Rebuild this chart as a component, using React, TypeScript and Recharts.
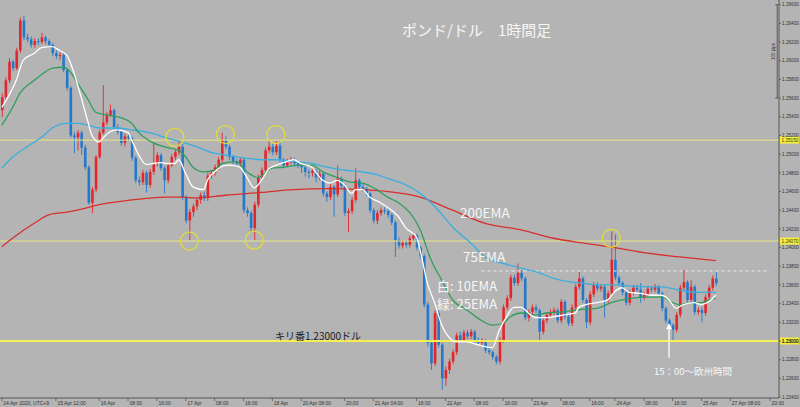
import React from 'react';
import { ComposedChart, Bar, Line, XAxis, YAxis, ReferenceLine, ReferenceDot } from 'recharts';

// ---- hourly candles (GBP/USD) ----
const opens = [
  1.2547,1.2561,1.2579,1.2599,1.2592,1.2611,1.2643,1.2625,1.2623,1.2617,
  1.2621,1.2620,1.2625,1.2621,1.2617,1.2608,1.2605,1.2606,1.2590,1.2571,
  1.2520,1.2518,1.2523,1.2507,1.2486,1.2448,1.2462,1.2497,1.2523,1.2534,
  1.2542,1.2547,1.2529,1.2524,1.2512,1.2519,1.2517,1.2496,1.2472,1.2470,
  1.2480,1.2467,1.2481,1.2490,1.2499,1.2485,1.2472,1.2488,1.2497,1.2502,
  1.2508,1.2454,1.2429,1.2438,1.2444,1.2451,1.2456,1.2453,1.2477,1.2480,
  1.2486,1.2494,1.2515,1.2508,1.2497,1.2492,1.2490,1.2494,1.2440,1.2437,
  1.2421,1.2446,1.2475,1.2483,1.2504,1.2508,1.2502,1.2509,1.2494,1.2488,
  1.2492,1.2494,1.2490,1.2488,1.2486,1.2481,1.2480,1.2482,1.2475,1.2479,
  1.2458,1.2454,1.2465,1.2457,1.2474,1.2466,1.2437,1.2439,1.2451,1.2472,
  1.2465,1.2463,1.2458,1.2440,1.2429,1.2437,1.2440,1.2439,1.2435,1.2427,
  1.2408,1.2402,1.2405,1.2403,1.2410,1.2413,1.2400,1.2391,1.2339,1.2298,
  1.2276,1.2330,1.2296,1.2260,1.2269,1.2278,1.2288,1.2306,1.2301,1.2309,
  1.2305,1.2310,1.2301,1.2298,1.2300,1.2290,1.2288,1.2283,1.2278,1.2301,
  1.2336,1.2346,1.2368,1.2362,1.2373,1.2367,1.2325,1.2331,1.2336,1.2333,
  1.2310,1.2322,1.2328,1.2331,1.2333,1.2322,1.2342,1.2326,1.2319,1.2336,
  1.2358,1.2367,1.2344,1.2320,1.2350,1.2360,1.2356,1.2358,1.2344,1.2351,
  1.2387,1.2368,1.2362,1.2352,1.2341,1.2352,1.2357,1.2355,1.2347,1.2350,
  1.2356,1.2355,1.2358,1.2351,1.2335,1.2322,1.2317,1.2312,1.2328,1.2357,
  1.2363,1.2344,1.2358,1.2331,1.2333,1.2330,1.2347,1.2357,1.2367,
];
const highs = [
  1.2565,1.2582,1.2603,1.2601,1.2614,1.2646,1.2648,1.2629,1.2626,1.2624,
  1.2624,1.2630,1.2627,1.2623,1.2619,1.2611,1.2609,1.2608,1.2592,1.2573,
  1.2524,1.2526,1.2525,1.2510,1.2488,1.2465,1.2499,1.2526,1.2574,1.2545,
  1.2553,1.2549,1.2532,1.2526,1.2522,1.2522,1.2519,1.2498,1.2476,1.2483,
  1.2482,1.2484,1.2512,1.2502,1.2501,1.2487,1.2491,1.2500,1.2505,1.2514,
  1.2511,1.2456,1.2441,1.2447,1.2454,1.2459,1.2460,1.2480,1.2483,1.2489,
  1.2497,1.2523,1.2519,1.2510,1.2499,1.2495,1.2497,1.2496,1.2443,1.2439,
  1.2449,1.2478,1.2486,1.2507,1.2515,1.2511,1.2514,1.2514,1.2496,1.2495,
  1.2497,1.2496,1.2493,1.2490,1.2488,1.2484,1.2485,1.2484,1.2482,1.2481,
  1.2460,1.2468,1.2467,1.2488,1.2476,1.2468,1.2442,1.2454,1.2485,1.2474,
  1.2468,1.2465,1.2460,1.2442,1.2440,1.2443,1.2443,1.2441,1.2437,1.2429,
  1.2411,1.2408,1.2408,1.2413,1.2416,1.2415,1.2402,1.2393,1.2342,1.2300,
  1.2333,1.2333,1.2298,1.2273,1.2281,1.2291,1.2309,1.2310,1.2312,1.2312,
  1.2313,1.2312,1.2304,1.2303,1.2302,1.2293,1.2290,1.2285,1.2304,1.2339,
  1.2349,1.2371,1.2371,1.2383,1.2376,1.2369,1.2334,1.2339,1.2339,1.2335,
  1.2325,1.2331,1.2334,1.2336,1.2335,1.2345,1.2344,1.2328,1.2339,1.2361,
  1.2374,1.2369,1.2346,1.2353,1.2363,1.2363,1.2361,1.2360,1.2354,1.2417,
  1.2414,1.2370,1.2364,1.2354,1.2355,1.2360,1.2360,1.2362,1.2353,1.2359,
  1.2359,1.2361,1.2360,1.2353,1.2337,1.2324,1.2319,1.2331,1.2360,1.2376,
  1.2365,1.2365,1.2360,1.2336,1.2336,1.2350,1.2360,1.2370,1.2374,
];
const lows = [
  1.2540,1.2558,1.2576,1.2589,1.2590,1.2608,1.2622,1.2620,1.2614,1.2614,
  1.2617,1.2618,1.2618,1.2614,1.2605,1.2602,1.2601,1.2588,1.2568,1.2518,
  1.2501,1.2504,1.2499,1.2483,1.2446,1.2437,1.2459,1.2495,1.2521,1.2531,
  1.2540,1.2526,1.2521,1.2509,1.2508,1.2514,1.2493,1.2469,1.2466,1.2467,
  1.2459,1.2464,1.2478,1.2487,1.2482,1.2458,1.2469,1.2486,1.2494,1.2499,
  1.2451,1.2426,1.2408,1.2433,1.2440,1.2447,1.2450,1.2450,1.2474,1.2477,
  1.2483,1.2491,1.2505,1.2494,1.2489,1.2487,1.2487,1.2437,1.2433,1.2417,
  1.2408,1.2443,1.2472,1.2480,1.2501,1.2499,1.2499,1.2491,1.2485,1.2486,
  1.2489,1.2487,1.2485,1.2480,1.2476,1.2474,1.2476,1.2470,1.2472,1.2455,
  1.2449,1.2451,1.2433,1.2454,1.2463,1.2434,1.2417,1.2436,1.2448,1.2462,
  1.2460,1.2455,1.2437,1.2426,1.2425,1.2434,1.2436,1.2432,1.2424,1.2390,
  1.2399,1.2399,1.2400,1.2400,1.2407,1.2397,1.2388,1.2336,1.2294,1.2269,
  1.2273,1.2293,1.2248,1.2252,1.2265,1.2275,1.2285,1.2298,1.2298,1.2302,
  1.2302,1.2298,1.2295,1.2295,1.2287,1.2285,1.2280,1.2275,1.2275,1.2298,
  1.2333,1.2343,1.2359,1.2359,1.2364,1.2322,1.2321,1.2328,1.2330,1.2301,
  1.2307,1.2319,1.2325,1.2328,1.2319,1.2319,1.2323,1.2316,1.2316,1.2333,
  1.2355,1.2341,1.2314,1.2317,1.2347,1.2353,1.2353,1.2325,1.2341,1.2348,
  1.2365,1.2359,1.2349,1.2338,1.2338,1.2349,1.2352,1.2341,1.2344,1.2347,
  1.2352,1.2352,1.2348,1.2332,1.2319,1.2314,1.2299,1.2309,1.2325,1.2354,
  1.2341,1.2341,1.2328,1.2328,1.2320,1.2327,1.2344,1.2354,1.2359,
];
const closes = [
  1.2561,1.2579,1.2599,1.2592,1.2611,1.2643,1.2625,1.2623,1.2617,1.2621,
  1.2620,1.2625,1.2621,1.2617,1.2608,1.2605,1.2606,1.2590,1.2571,1.2520,
  1.2518,1.2523,1.2507,1.2486,1.2448,1.2462,1.2497,1.2523,1.2534,1.2542,
  1.2547,1.2529,1.2524,1.2512,1.2519,1.2517,1.2496,1.2472,1.2470,1.2480,
  1.2467,1.2481,1.2490,1.2499,1.2485,1.2472,1.2488,1.2497,1.2502,1.2508,
  1.2454,1.2429,1.2438,1.2444,1.2451,1.2456,1.2453,1.2477,1.2480,1.2486,
  1.2494,1.2515,1.2508,1.2497,1.2492,1.2490,1.2494,1.2440,1.2437,1.2421,
  1.2446,1.2475,1.2483,1.2504,1.2508,1.2502,1.2509,1.2494,1.2488,1.2492,
  1.2494,1.2490,1.2488,1.2486,1.2481,1.2480,1.2482,1.2475,1.2479,1.2458,
  1.2454,1.2465,1.2457,1.2474,1.2466,1.2437,1.2439,1.2451,1.2472,1.2465,
  1.2463,1.2458,1.2440,1.2429,1.2437,1.2440,1.2439,1.2435,1.2427,1.2408,
  1.2402,1.2405,1.2403,1.2410,1.2413,1.2400,1.2391,1.2339,1.2298,1.2276,
  1.2330,1.2296,1.2260,1.2269,1.2278,1.2288,1.2306,1.2301,1.2309,1.2305,
  1.2310,1.2301,1.2298,1.2300,1.2290,1.2288,1.2283,1.2278,1.2301,1.2336,
  1.2346,1.2368,1.2362,1.2373,1.2367,1.2325,1.2331,1.2336,1.2333,1.2310,
  1.2322,1.2328,1.2331,1.2333,1.2322,1.2342,1.2326,1.2319,1.2336,1.2358,
  1.2367,1.2344,1.2320,1.2350,1.2360,1.2356,1.2358,1.2344,1.2351,1.2387,
  1.2368,1.2362,1.2352,1.2341,1.2352,1.2357,1.2355,1.2347,1.2350,1.2356,
  1.2355,1.2358,1.2351,1.2335,1.2322,1.2317,1.2312,1.2328,1.2357,1.2363,
  1.2344,1.2358,1.2331,1.2333,1.2330,1.2347,1.2357,1.2367,1.2362,
];

// ---- moving averages: [candle index, price] ----
const ema10: [number, number][] = [
  [0,1.2550],[4,1.2579],[6,1.2601],[9,1.2608],[11,1.2614],[14,1.2615],[16,1.2611],[18,1.2606],
  [20,1.2587],[22,1.2561],[24,1.2533],[25,1.2520],[27,1.2513],[28,1.2517],[30,1.2524],[32,1.2526],
  [35,1.2523],[36,1.2515],[38,1.2499],[40,1.2489],[42,1.2490],[44,1.2491],[46,1.2490],[48,1.2490],
  [49,1.2494],[51,1.2479],[53,1.2465],[56,1.2462],[57,1.2472],[59,1.2481],[62,1.2488],[64,1.2488],
  [66,1.2486],[68,1.2475],[70,1.2464],[72,1.2472],[74,1.2484],[76,1.2488],[79,1.2492],[81,1.2494],
  [83,1.2490],[86,1.2486],[87,1.2481],[89,1.2472],[91,1.2469],[93,1.2472],[95,1.2467],[97,1.2458],
  [98,1.2462],[100,1.2462],[102,1.2454],[105,1.2448],[107,1.2443],[110,1.2433],[112,1.2421],[115,1.2411],
  [116,1.2397],[118,1.2362],[120,1.2341],[122,1.2317],[124,1.2304],[126,1.2299],[129,1.2299],[132,1.2296],
  [134,1.2294],[136,1.2293],[138,1.2312],[140,1.2326],[142,1.2336],[144,1.2336],[146,1.2330],[148,1.2325],
  [151,1.2325],[153,1.2326],[156,1.2328],[159,1.2330],[160,1.2336],[162,1.2339],[165,1.2341],[168,1.2344],
  [170,1.2353],[172,1.2357],[174,1.2352],[177,1.2351],[180,1.2349],[183,1.2349],[185,1.2344],[187,1.2335],
  [189,1.2339],[192,1.2341],[194,1.2339],[196,1.2342],[198,1.2349],
];
const ema25: [number, number][] = [
  [0,1.2531],[3,1.2550],[5,1.2565],[9,1.2579],[12,1.2588],[14,1.2592],[17,1.2593],[19,1.2588],
  [21,1.2576],[24,1.2558],[26,1.2545],[29,1.2542],[33,1.2539],[36,1.2533],[38,1.2523],[42,1.2512],
  [46,1.2507],[49,1.2504],[51,1.2497],[53,1.2486],[56,1.2481],[59,1.2483],[61,1.2490],[65,1.2492],
  [68,1.2481],[71,1.2475],[75,1.2485],[78,1.2486],[82,1.2488],[86,1.2488],[89,1.2481],[93,1.2475],
  [97,1.2470],[100,1.2469],[104,1.2462],[107,1.2454],[110,1.2448],[114,1.2433],[116,1.2419],[119,1.2387],
  [122,1.2365],[125,1.2344],[129,1.2333],[133,1.2322],[136,1.2317],[139,1.2319],[141,1.2326],[144,1.2330],
  [148,1.2328],[151,1.2330],[155,1.2331],[159,1.2333],[161,1.2334],[165,1.2335],[169,1.2341],[172,1.2344],
  [175,1.2346],[179,1.2347],[183,1.2347],[186,1.2341],[188,1.2339],[191,1.2341],[194,1.2341],[196,1.2344],
  [198,1.2346],
];
const ema75: [number, number][] = [
  [0,1.2485],[3,1.2497],[7,1.2508],[11,1.2518],[14,1.2528],[18,1.2533],[21,1.2533],[24,1.2531],
  [27,1.2528],[32,1.2528],[36,1.2526],[41,1.2523],[46,1.2517],[50,1.2513],[54,1.2508],[58,1.2502],
  [62,1.2499],[67,1.2496],[72,1.2494],[76,1.2494],[81,1.2492],[86,1.2490],[90,1.2486],[95,1.2483],
  [100,1.2481],[104,1.2478],[107,1.2474],[111,1.2469],[116,1.2458],[121,1.2440],[125,1.2422],[130,1.2405],
  [134,1.2390],[139,1.2383],[144,1.2378],[149,1.2373],[153,1.2367],[158,1.2363],[161,1.2362],[165,1.2360],
  [170,1.2360],[174,1.2359],[179,1.2358],[183,1.2358],[186,1.2356],[190,1.2353],[194,1.2352],[198,1.2352],
];
const ema200: [number, number][] = [
  [0,1.2401],[4,1.2413],[9,1.2426],[13,1.2435],[18,1.2438],[23,1.2442],[27,1.2446],[32,1.2449],
  [36,1.2451],[41,1.2453],[46,1.2454],[50,1.2454],[54,1.2453],[62,1.2456],[72,1.2459],[81,1.2462],
  [90,1.2463],[100,1.2462],[107,1.2460],[116,1.2454],[125,1.2440],[134,1.2426],[144,1.2419],[153,1.2410],
  [161,1.2405],[170,1.2400],[179,1.2394],[188,1.2390],[198,1.2386],
];

// ---- axes ----
const SLOT_COUNT = 216;
const xTickIdx = [0,15,27,35,43,51,59,67,75,83,95,103,115,123,131,139,147,155,163,170,178,186,194,202,213];
const xTickText = [
  '14 Apr 2020, UTC+9','15 Apr 12:00','16 Apr','08:00','16:00','17 Apr','08:00','16:00','18 Apr',
  '20 Apr 08:00','20:00','21 Apr 04:00','16:00','22 Apr','08:00','16:00','23 Apr','08:00','16:00',
  '24 Apr','08:00','16:00','25 Apr','27 Apr 08:00','20:00',
];
const yTicks = [1.224,1.226,1.228,1.23,1.232,1.234,1.236,1.238,1.24,1.242,1.244,1.246,1.248,1.25,1.252,1.254,1.256,1.258,1.26,1.262,1.264,1.266];
const Y_MIN = 1.2239;
const Y_MAX = 1.2665;

// ---- annotations ----
const levelPrices = [1.2515, 1.2407, 1.23];
const levelTags = ['1.25150', '1.24070', '1.23000'];
const circleIdx = [48, 62, 76, 52, 70, 169];
const circlePrice = [1.2518, 1.2521, 1.2521, 1.2407, 1.2408, 1.2410];
const dashedLevel = 1.2375;
const arrowIdx = 185;
const arrowFrom = 1.2282;
const arrowTo = 1.2318;

const UP = '#e4262b';
const DOWN = '#2378cc';
const BG = '#b4b4b4';
const TICK_FONT = '"Liberation Sans", Arial, sans-serif';

const rows: any[] = [];
for (let i = 0; i < SLOT_COUNT; i++) {
  const r: any = { i };
  if (i < opens.length) {
    r.o = opens[i]; r.h = highs[i]; r.l = lows[i]; r.c = closes[i];
    r.range = [lows[i], highs[i]];
  }
  rows.push(r);
}
ema10.forEach(([i, v]) => { rows[i].e10 = v; });
ema25.forEach(([i, v]) => { rows[i].e25 = v; });
ema75.forEach(([i, v]) => { rows[i].e75 = v; });
ema200.forEach(([i, v]) => { rows[i].e200 = v; });

function Candle(props: any) {
  const { x, y, width, height, payload } = props;
  if (!payload || payload.o == null || !isFinite(y) || !isFinite(height)) return <g />;
  const top = Math.min(y, y + height);
  const span = Math.abs(height);
  const unit = span / ((payload.h - payload.l) || 1);
  const hi = Math.max(payload.o, payload.c);
  const lo = Math.min(payload.o, payload.c);
  const bTop = top + (payload.h - hi) * unit;
  const bH = Math.max(1, (hi - lo) * unit);
  const color = payload.c >= payload.o ? UP : DOWN;
  const cx = x + width / 2;
  return (
    <g>
      <line x1={cx} x2={cx} y1={top} y2={top + span} stroke={color} strokeWidth={0.9} />
      <rect x={x} y={bTop} width={width} height={bH} fill={color} />
    </g>
  );
}

function XTick(props: any) {
  const { x, y, payload } = props;
  const k = xTickIdx.indexOf(payload.value);
  if (k < 0) return <g />;
  return (
    <g>
      <line x1={x} x2={x} y1={y} y2={y + 3} stroke="#555" strokeWidth={0.8} />
      <text x={x + 1.5} y={y + 6.5} fontSize={5} fill="#333" fontFamily={TICK_FONT}>{xTickText[k]}</text>
    </g>
  );
}

function YTick(props: any) {
  const { x, y, payload } = props;
  return (
    <g>
      <line x1={x} x2={x + 2} y1={y} y2={y} stroke="#555" strokeWidth={0.8} />
      <text x={x + 3} y={y + 1.7} fontSize={4.7} fill="#333" fontFamily={TICK_FONT}>{payload.value.toFixed(5)}</text>
    </g>
  );
}

const tagLabel = (text: string) => (props: any) => {
  const vb = props.viewBox || {};
  const x = (vb.x ?? 0) + (vb.width ?? 0);
  const y = vb.y ?? 0;
  return (
    <g>
      <rect x={x + 1} y={y - 3.5} width={19} height={7} fill="#f3ef3a" />
      <text x={x + 2.5} y={y + 1.7} fontSize={4.7} fill="#333" fontFamily={TICK_FONT}>{text}</text>
    </g>
  );
};

const pipsLabel = (props: any) => {
  const vb = props.viewBox || {};
  const x = vb.x ?? 0;
  const y = vb.y ?? 0;
  const h = vb.height ?? 0;
  const my = y + h / 2;
  return (
    <g>
      <line x1={x - 2} x2={x + 1} y1={y} y2={y} stroke="#444" strokeWidth={0.8} />
      <line x1={x - 2} x2={x + 1} y1={y + h} y2={y + h} stroke="#444" strokeWidth={0.8} />
      <text x={x - 2.5} y={my} fontSize={4.5} fill="#333" textAnchor="middle" transform={`rotate(-90 ${x - 2.5} ${my})`} fontFamily={TICK_FONT}>100 pips</text>
    </g>
  );
};

const arrowHead = (props: any) => {
  const { cx, cy } = props;
  return <path d={`M${cx},${cy - 1} L${cx - 3},${cy + 5} L${cx + 3},${cy + 5} Z`} fill="#ffffff" />;
};

const JP = '"Noto Sans CJK JP", "Noto Sans", sans-serif';

export default function App() {
  const lineCommon = { dot: false, activeDot: false, connectNulls: true, type: 'monotone' as const, isAnimationActive: false, strokeWidth: 1.3 };
  return (
    <div style={{ position: 'fixed', left: 0, top: 0, width: 800, height: 407, background: BG, overflow: 'hidden' }}>
      <ComposedChart width={800} height={407} data={rows} margin={{ top: 0, right: 0, bottom: 0, left: 0 }} barSize={2.6}>
        <XAxis dataKey="i" type="category" interval={0} height={9} tickLine={false} tickSize={0} tickMargin={0}
          axisLine={{ stroke: '#555', strokeWidth: 1 }} tick={(p: any) => <XTick {...p} />} />
        <YAxis orientation="right" type="number" domain={[Y_MIN, Y_MAX]} ticks={yTicks} interval={0} allowDataOverflow
          width={21} tickLine={false} tickSize={0} tickMargin={0} axisLine={{ stroke: '#555', strokeWidth: 1 }}
          tick={(p: any) => <YTick {...p} />} />
        {levelPrices.map((p, k) => (
          <ReferenceLine key={'lv' + k} y={p} stroke={k === 2 ? '#f4f052' : '#e6e683'} strokeWidth={k === 2 ? 2 : 1}
            label={tagLabel(levelTags[k])} />
        ))}
        <ReferenceLine segment={[{ x: 133, y: dashedLevel }, { x: 213, y: dashedLevel }]} stroke="#ececec" strokeDasharray="3 3" strokeWidth={1} />
        <ReferenceLine segment={[{ x: 215, y: 1.266 }, { x: 215, y: 1.256 }]} stroke="#444" strokeWidth={0.8} label={pipsLabel} />
        <Bar dataKey="range" shape={(p: any) => <Candle {...p} />} isAnimationActive={false} />
        <Line dataKey="e200" stroke="#d6302e" {...lineCommon} />
        <Line dataKey="e75" stroke="#3aaee0" {...lineCommon} />
        <Line dataKey="e25" stroke="#2f9e5a" {...lineCommon} />
        <Line dataKey="e10" stroke="#ffffff" {...lineCommon} />
        {circleIdx.map((ix, k) => (
          <ReferenceDot key={'c' + k} x={ix} y={circlePrice[k]} r={9} fill="none" stroke="#e2dc3a" strokeWidth={1.3} />
        ))}
        <ReferenceLine segment={[{ x: arrowIdx, y: arrowFrom }, { x: arrowIdx, y: arrowTo }]} stroke="#ffffff" strokeWidth={1.3} />
        <ReferenceDot x={arrowIdx} y={arrowTo} r={3} shape={arrowHead} />
      </ComposedChart>
      <svg width={800} height={407} style={{ position: 'absolute', left: 0, top: 0, pointerEvents: 'none' }}>
        <text x={402} y={35.5} fontSize={15} fill="#f6f6f6" fontFamily={JP}>ポンド/ドル　1時間足</text>
        <text x={460} y={218} fontSize={13.5} fill="#f6f6f6" fontFamily={JP}>200EMA</text>
        <text x={463} y={262} fontSize={13.5} fill="#f6f6f6" fontFamily={JP}>75EMA</text>
        <text x={437} y={291} fontSize={13} fill="#f6f6f6" fontFamily={JP}>白: 10EMA</text>
        <text x={437} y={309} fontSize={13} fill="#f6f6f6" fontFamily={JP}>緑: 25EMA</text>
        <text x={275} y={339.5} fontSize={10} fill="#1c1c1c" fontFamily={JP}>キリ番1.23000ドル</text>
        <text x={654} y={375} fontSize={9.5} fill="#f6f6f6" fontFamily={JP}>15：00～欧州時間</text>
      </svg>
    </div>
  );
}
